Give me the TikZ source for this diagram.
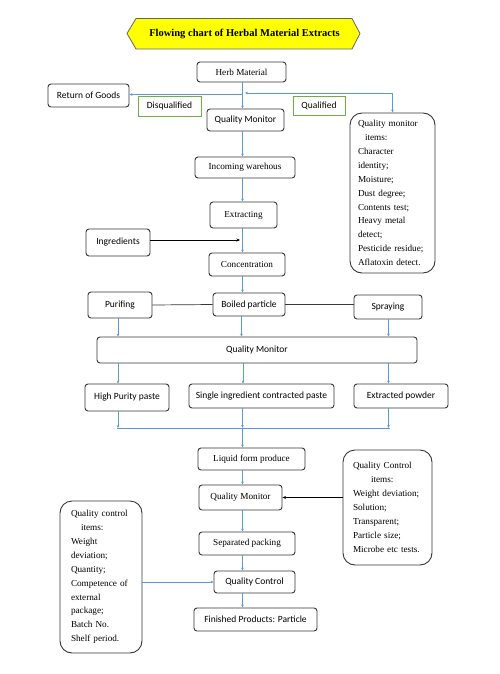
\documentclass[tikz,border=0pt]{standalone}
\usepackage{fontspec}
\setmainfont{Liberation Serif}
\newfontfamily\calfont{Carlito}
\usetikzlibrary{arrows.meta}
\definecolor{flowblue}{RGB}{91,155,213}
\definecolor{boxgray}{RGB}{55,55,55}
\definecolor{lbgreen}{RGB}{112,173,71}
\definecolor{titleyellow}{RGB}{255,255,0}
\tikzset{
  box/.style={draw=boxgray, line width=0.9pt, rounded corners=3pt, inner sep=1pt,
    font=\fontsize{9.2}{10}\selectfont},
  sbox/.style={box, font=\calfont\fontsize{9.5}{10}\selectfont},
  bigbox/.style={draw=boxgray, line width=0.9pt, rounded corners=12pt, align=left,
    inner sep=2pt, font=\fontsize{9.2}{13.9}\selectfont},
  glabel/.style={draw=lbgreen, line width=0.6pt, font=\calfont\fontsize{9.5}{10}\selectfont, inner sep=1pt},
  flow/.style={draw=flowblue, line width=0.6pt, -{Stealth[length=3pt,width=2.6pt]}},
  flowline/.style={draw=flowblue, line width=0.6pt},
  blk/.style={draw=black, line width=0.6pt, -{Stealth[length=3.5pt,width=3pt]}},
  blkline/.style={draw=boxgray, line width=0.7pt},
}
\begin{document}
\begin{tikzpicture}[x=1pt,y=-1pt]
\useasboundingbox (0,0) rectangle (500,674);
\fill[white] (0,0) rectangle (500,674);
% title
\draw[draw=gray!80!black, line width=0.8pt, fill=titleyellow]
  (127,33.5) -- (136,18.5) -- (352,18.5) -- (360,33.5) -- (352,49) -- (136,49) -- cycle;
\node[font=\bfseries\fontsize{10.5}{12}\selectfont] (title) at (244.5,33.5) {Flowing chart of Herbal Material Extracts};
% spine
\coordinate (spine) at (242.5,0);
% nodes
\node[box, minimum width=89pt, minimum height=20pt] (herb) at (241.5,72) {Herb Material};
\node[sbox, minimum width=81pt, minimum height=23pt] (ret) at (88.5,95.5) {Return of Goods};
\node[glabel, minimum width=63pt, minimum height=20pt] (disq) at (169.5,106) {Disqualified};
\node[glabel, minimum width=52pt, minimum height=19pt] (qual) at (319,105.5) {Qualified};
\node[sbox, minimum width=77pt, minimum height=22pt] (qm1) at (245.5,120) {Quality Monitor};
\node[bigbox, minimum width=85pt, minimum height=160pt, text width=69pt] (items1) at (392.5,193)
  {Quality monitor\\\hspace*{7pt}items:\\Character\\identity;\\Moisture;\\Dust degree;\\Contents test;\\Heavy metal\\detect;\\Pesticide residue;\\Aflatoxin detect.};
\node[box, minimum width=100pt, minimum height=21pt] (inc) at (245,167.5) {Incoming warehous};
\node[box, minimum width=67pt, minimum height=26pt] (extr) at (243.5,215) {Extracting};
\node[sbox, minimum width=64pt, minimum height=27pt] (ingr) at (118,242.5) {Ingredients};
\node[box, minimum width=76pt, minimum height=23pt] (conc) at (247,264.5) {Concentration};
\node[sbox, minimum width=64pt, minimum height=26pt] (puri) at (120,305) {Purifing};
\node[sbox, minimum width=72pt, minimum height=23pt] (boil) at (249,304.5) {Boiled particle};
\node[sbox, minimum width=68pt, minimum height=24pt] (spray) at (388,307) {Spraying};
\node[sbox, minimum width=320pt, minimum height=26pt] (qmw) at (257,350) {Quality Monitor};
\node[sbox, minimum width=84pt, minimum height=27pt] (high) at (127,397.5) {High Purity paste};
\node[sbox, minimum width=145pt, minimum height=24pt] (single) at (261.5,396) {Single ingredient contracted paste};
\node[sbox, minimum width=94pt, minimum height=24pt] (extp) at (401,396) {Extracted powder};
\node[box, minimum width=107pt, minimum height=22pt] (liq) at (251.5,459) {Liquid form produce};
\node[box, minimum width=83pt, minimum height=25pt] (qm2) at (240.5,497.5) {Quality Monitor};
\node[bigbox, minimum width=89pt, minimum height=115pt, text width=69pt] (items2) at (387.5,507.5)
  {Quality Control\\\hspace*{18pt}items:\\Weight deviation;\\Solution;\\Transparent;\\Particle size;\\Microbe etc tests.};
\node[box, minimum width=96pt, minimum height=23pt] (sep) at (247,543.5) {Separated packing};
\node[sbox, minimum width=81pt, minimum height=22pt] (qc) at (254.5,582) {Quality Control};
\node[sbox, minimum width=123pt, minimum height=23pt] (fin) at (255.5,619.5) {Finished Products: Particle};
\node[bigbox, minimum width=82pt, minimum height=152pt, text width=60pt] (items3) at (101,577)
  {Quality control\\\hspace*{10pt}items:\\Weight\\deviation;\\Quantity;\\Competence of\\external\\package;\\Batch No.\\Shelf period.};
% connectors top
\coordinate (j1) at (242.5,94.5);
\coordinate (j2) at (245,93);
\draw[flow] (herb.south -| spine) -- (qm1.north -| spine);
\draw[flow] (j1) -- (ret.east |- j1);
\draw[flow] (items1.north |- j2) -- (j2);
\draw[flow] (items1.north |- j2) -- (items1.north);
% spine
\draw[flow] (qm1.south -| spine) -- (inc.north -| spine);
\draw[flow] (inc.south -| spine) -- (extr.north -| spine);
\draw[flow] (extr.south -| spine) -- (conc.north -| spine);
\coordinate (ingt) at (240,240);
\draw[blk] (ingr.east |- ingt) -- (ingt);
\draw[flow] (conc.south -| spine) -- (boil.north -| spine);
% boiled row
\draw[blkline] (puri.east) -- (boil.west);
\draw[blkline] (boil.east) -- (spray.west |- boil.east);
\coordinate (cL) at (118,0);
\coordinate (cM) at (241.5,0);
\coordinate (cR) at (388.5,0);
\coordinate (cS) at (243,0);
\draw[flow] (puri.south -| cL) -- (qmw.north -| cL);
\draw[flow] (boil.south -| cM) -- (qmw.north -| cM);
\draw[flow] (spray.south -| cR) -- (qmw.north -| cR);
\draw[flow] (qmw.south -| cL) -- (high.north -| cL);
\draw[flow] (qmw.south -| cS) -- (single.north -| cS);
\draw[flow] (qmw.south -| cR) -- (extp.north -| cR);
% merge
\coordinate (mL) at (118,428);
\coordinate (mM) at (242.5,428);
\coordinate (mR) at (388.5,428);
\draw[flow] (high.south -| cL) -- (mL);
\draw[flow] (single.south -| mM) -- (mM);
\draw[flow] (extp.south -| cR) -- (mR);
\draw[flowline] (117,428) -- (389.5,428);
\draw[flow] (mM) -- (liq.north -| mM);
% bottom
\draw[flow] (liq.south -| spine) -- (qm2.north -| spine);
\draw[blk] (items2.west |- qm2.east) -- (qm2.east);
\draw[flow] (qm2.south -| spine) -- (sep.north -| spine);
\draw[flow] (sep.south -| spine) -- (qc.north -| spine);
\draw[flow] (items3.east |- qc.west) -- (qc.west);
\draw[flow] (qc.south -| spine) -- (fin.north -| spine);
\end{tikzpicture}
\end{document}
